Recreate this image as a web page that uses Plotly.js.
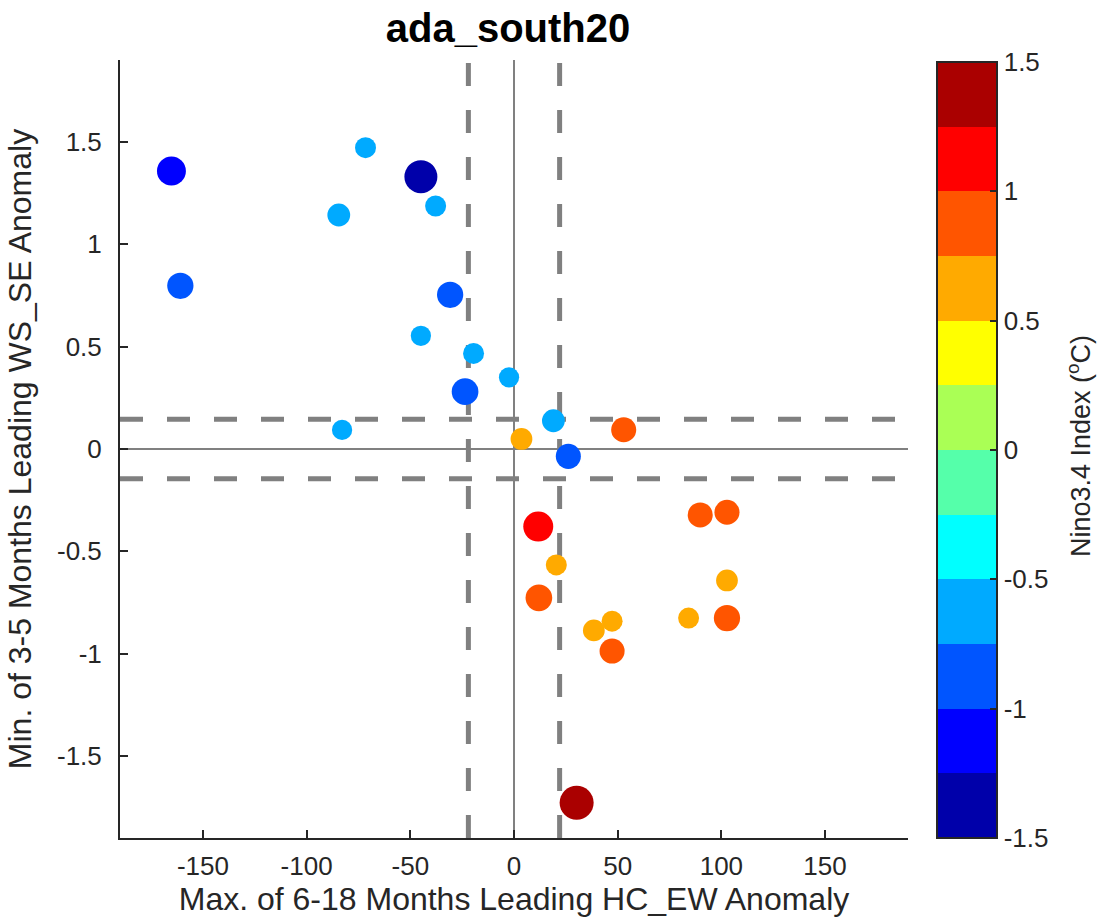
<!DOCTYPE html>
<html>
<head>
<meta charset="utf-8">
<script src="https://cdn.plot.ly/plotly-3.0.1.min.js"></script>
<style>html,body{margin:0;padding:0;background:#fff;}#chart{width:1101px;height:923px;}</style>
</head>
<body>
<div id="chart"></div>
<script>
// Max. of 6-18 months leading HC_EW anomaly (x)
const hcEW = [-165.2, -160.9, -71.6, -84.5, -44.9, -37.8, -30.8, -44.9, -19.5, -2.4,
              -23.6, -82.9, 19.0, 3.6, 52.9, 26.2, 11.7, 20.4, 12.0, 38.5,
              47.3, 47.3, 84.2, 89.8, 102.7, 102.7, 102.7, 30.2];
// Min. of 3-5 months leading WS_SE anomaly (y)
const wsSE = [1.358, 0.797, 1.472, 1.143, 1.330, 1.187, 0.753, 0.553, 0.467, 0.350,
              0.280, 0.093, 0.138, 0.049, 0.094, -0.036, -0.379, -0.566, -0.727, -0.886,
              -0.841, -0.987, -0.826, -0.322, -0.309, -0.642, -0.826, -1.728];
// Nino3.4 index (°C) for each point
const nino = [-1.13, -0.95, -0.60, -0.72, -1.40, -0.60, -0.95, -0.55, -0.60, -0.55,
              -0.98, -0.55, -0.72, 0.65, 0.87, -0.87, 1.20, 0.60, 0.98, 0.65,
              0.60, 0.87, 0.60, 0.87, 0.87, 0.65, 0.95, 1.47];

const xTicks = [-150, -100, -50, 0, 50, 100, 150];
const xTickText = ['-150', '-100', '-50', '0', '50', '100', '150'];
const yTicks = [-1.5, -1, -0.5, 0, 0.5, 1, 1.5];
const yTickText = ['-1.5', '-1', '-0.5', '0', '0.5', '1', '1.5'];
const cTicks = [-1.5, -1, -0.5, 0, 0.5, 1, 1.5];
const cTickText = ['-1.5', '-1', '-0.5', '0', '0.5', '1', '1.5'];

// thresholds
const xThresh = 22;
const yThresh = 0.145;

// jet(12) colormap
const jet12 = ['rgb(0,0,170)', 'rgb(0,0,255)', 'rgb(0,85,255)', 'rgb(0,170,255)',
               'rgb(0,255,255)', 'rgb(85,255,170)', 'rgb(170,255,85)', 'rgb(255,255,0)',
               'rgb(255,170,0)', 'rgb(255,85,0)', 'rgb(255,0,0)', 'rgb(170,0,0)'];
const colorscale = [];
jet12.forEach((c, i) => {
  colorscale.push([i / 12, c]);
  colorscale.push([(i + 1) / 12, c]);
});

const sizes = nino.map(v => 12 + 15 * Math.abs(v));

const FONT = 'Arial, "Liberation Sans", sans-serif';
const DARK = '#262626';

const trace = {
  type: 'scatter',
  mode: 'markers',
  x: hcEW,
  y: wsSE,
  marker: {
    color: nino,
    size: sizes,
    cmin: -1.5,
    cmax: 1.5,
    colorscale: colorscale,
    line: {width: 0},
    opacity: 1,
    colorbar: {
      x: (937 - 120) / 788,
      xanchor: 'left',
      xpad: 0,
      y: 0,
      yanchor: 'bottom',
      ypad: 0,
      thickness: 60,
      thicknessmode: 'pixels',
      len: 776,
      lenmode: 'pixels',
      outlinewidth: 2,
      outlinecolor: DARK,
      ticks: 'inside',
      ticklen: 8,
      tickwidth: 2,
      tickcolor: DARK,
      tickvals: cTicks,
      ticktext: cTickText,
      tickfont: {family: FONT, size: 26, color: DARK},
      ticklabelstandoff: 15
    }
  },
  hoverinfo: 'x+y'
};

const shapes = [
  {type: 'line', xref: 'x', yref: 'paper', x0: 0, x1: 0, y0: 0, y1: 1, layer: 'below',
   line: {color: '#808080', width: 2}},
  {type: 'line', xref: 'paper', yref: 'y', x0: 0, x1: 1, y0: 0, y1: 0, layer: 'below',
   line: {color: '#808080', width: 2}},
  {type: 'line', xref: 'x', yref: 'paper', x0: -xThresh, x1: -xThresh, y0: 0, y1: 1, layer: 'below',
   line: {color: '#808080', width: 5, dash: '23px,24px'}},
  {type: 'line', xref: 'x', yref: 'paper', x0: xThresh, x1: xThresh, y0: 0, y1: 1, layer: 'below',
   line: {color: '#808080', width: 5, dash: '23px,24px'}},
  {type: 'line', xref: 'paper', yref: 'y', x0: 0, x1: 1, y0: yThresh, y1: yThresh, layer: 'below',
   line: {color: '#808080', width: 5, dash: '23px,24px'}},
  {type: 'line', xref: 'paper', yref: 'y', x0: 0, x1: 1, y0: -yThresh, y1: -yThresh, layer: 'below',
   line: {color: '#808080', width: 5, dash: '23px,24px'}}
];

const layout = {
  width: 1101,
  height: 923,
  margin: {l: 120, r: 193, t: 60, b: 85, pad: 0},
  paper_bgcolor: '#ffffff',
  plot_bgcolor: '#ffffff',
  showlegend: false,
  font: {family: FONT, color: DARK},
  title: {
    text: '<b>ada_south20</b>',
    font: {family: FONT, size: 40, color: '#000000'},
    xref: 'container', x: 508 / 1101, xanchor: 'center',
    yref: 'container', y: 1 - 28 / 923, yanchor: 'middle'
  },
  xaxis: {
    range: [-190, 190],
    tickvals: xTicks,
    ticktext: xTickText,
    showgrid: false,
    zeroline: false,
    showline: true,
    linecolor: DARK,
    linewidth: 2,
    mirror: false,
    ticks: 'inside',
    ticklen: 8,
    tickwidth: 2,
    tickcolor: DARK,
    tickfont: {family: FONT, size: 26, color: DARK},
    ticklabelstandoff: 4,
    automargin: false,
    title: {
      text: 'Max. of 6-18 Months Leading HC_EW Anomaly',
      font: {family: FONT, size: 32, color: DARK},
      standoff: 5
    }
  },
  yaxis: {
    range: [-1.9, 1.9],
    tickvals: yTicks,
    ticktext: yTickText,
    showgrid: false,
    zeroline: false,
    showline: true,
    linecolor: DARK,
    linewidth: 2,
    mirror: false,
    ticks: 'inside',
    ticklen: 8,
    tickwidth: 2,
    tickcolor: DARK,
    tickfont: {family: FONT, size: 26, color: DARK},
    ticklabelstandoff: 11,
    automargin: false,
    title: {
      text: 'Min. of 3-5 Months Leading WS_SE Anomaly',
      font: {family: FONT, size: 32, color: DARK},
      standoff: 16
    }
  },
  shapes: shapes,
  annotations: [{
    text: 'Nino3.4 Index (<sup>o</sup>C)',
    xref: 'paper', yref: 'paper',
    x: (1079 - 120) / 788, y: (838 - 446) / 778,
    xanchor: 'center', yanchor: 'middle',
    textangle: -90,
    showarrow: false,
    font: {family: FONT, size: 27, color: DARK}
  }]
};

Plotly.newPlot('chart', [trace], layout, {displayModeBar: false, staticPlot: true});
</script>
</body>
</html>
